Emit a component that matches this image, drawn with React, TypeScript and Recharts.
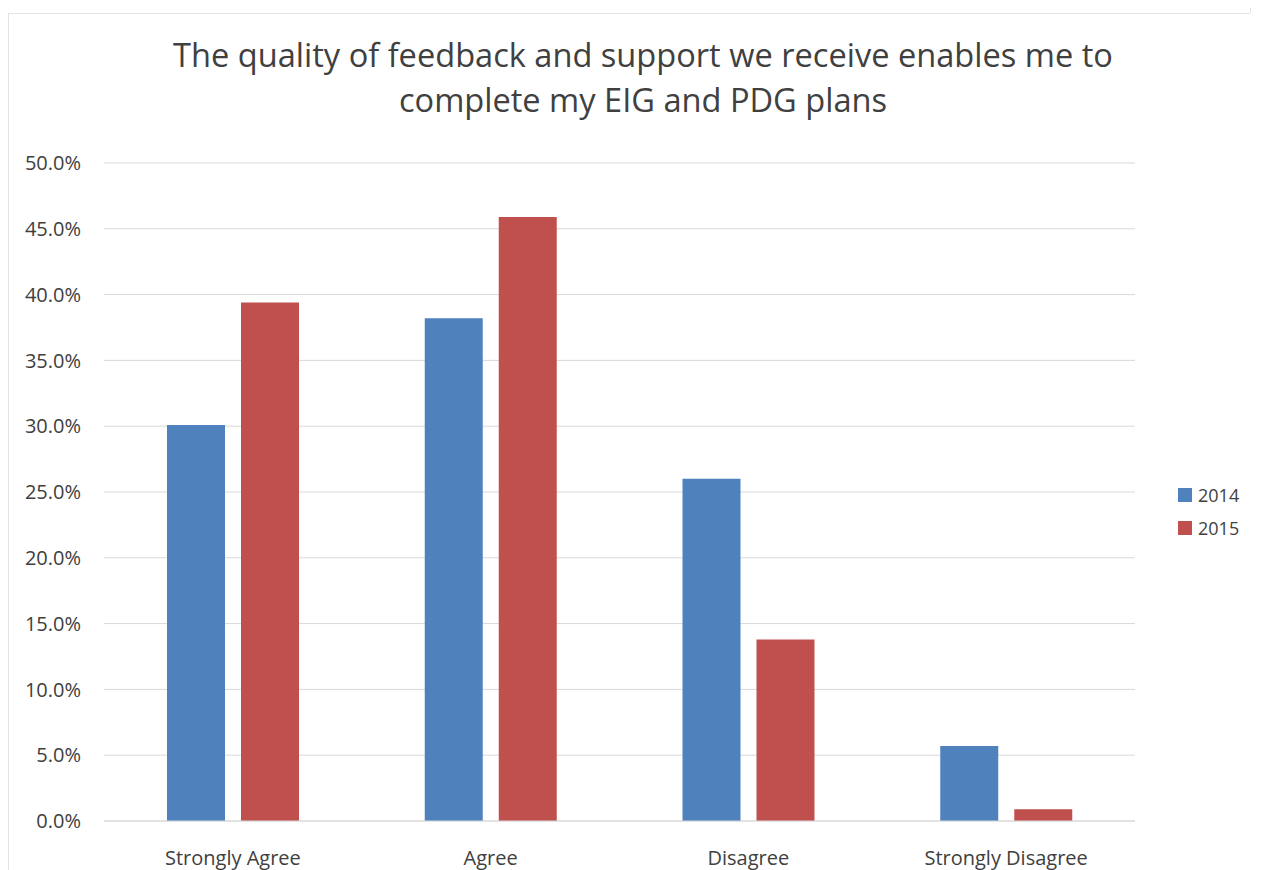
import { Bar, BarChart, CartesianGrid, XAxis, YAxis } from 'recharts'

const categories = ['Strongly Agree', 'Agree', 'Disagree', 'Strongly Disagree']
const values2014 = [30.1, 38.2, 26.0, 5.7]
const values2015 = [39.4, 45.9, 13.8, 0.9]
const yTicks = [0, 5, 10, 15, 20, 25, 30, 35, 40, 45, 50]

const BLUE = '#4F81BD'
const RED = '#C0504D'
const FONT = '"Open Sans", sans-serif'

const data = categories.map((name, i) => ({ name, y2014: values2014[i], y2015: values2015[i] }))

function LegendBox() {
  const items = [
    { label: '2014', color: BLUE },
    { label: '2015', color: RED },
  ]
  return (
    <div style={{ position: 'absolute', left: 1170, top: 470 }}>
      {items.map((it) => (
        <div key={it.label} style={{ display: 'flex', alignItems: 'center', height: 33 }}>
          <div style={{ width: 14, height: 14, background: it.color, marginRight: 6 }} />
          <span style={{ fontSize: 18, color: '#404040', fontFamily: FONT }}>{it.label}</span>
        </div>
      ))}
    </div>
  )
}

export default function App() {
  return (
    <div style={{ position: 'relative', width: 1258, height: 862, fontFamily: FONT }}>
      {/* frame lines from the original screenshot */}
      <div style={{ position: 'absolute', left: 0, top: 5, width: 1242, height: 1, background: '#e3e3e3' }} />
      <div style={{ position: 'absolute', left: 0, top: 5, width: 1, height: 857, background: '#e3e3e3' }} />
      <div style={{ position: 'absolute', left: 1242, top: -8, width: 1, height: 13, background: '#e3e3e3' }} />
      <div style={{ position: 'absolute', left: 0, top: 24, width: 1270, textAlign: 'center', fontSize: 32.6, color: '#404040', lineHeight: '45px' }}>
        The quality of feedback and support we receive enables me to
        <br />
        complete my EIG and PDG plans
      </div>
      <BarChart
        width={1258}
        height={862}
        data={data}
        margin={{ top: 155, right: 131, bottom: 0, left: 0 }}
        barSize={58}
        barGap={16}
      >
        <CartesianGrid vertical={false} stroke="#D9D9D9" />
        <XAxis
          dataKey="name"
          height={49}
          axisLine={{ stroke: '#D9D9D9' }}
          tickLine={false}
          tickSize={0}
          tickMargin={30}
          tick={{ fontSize: 20, fill: '#404040', fontFamily: FONT }}
        />
        <YAxis
          width={96}
          domain={[0, 50]}
          ticks={yTicks}
          interval={0}
          axisLine={false}
          tickLine={false}
          tickSize={0}
          tickMargin={23}
          tickFormatter={(v: number) => v.toFixed(1) + '%'}
          tick={{ fontSize: 20, fill: '#404040', fontFamily: FONT }}
        />
        <Bar dataKey="y2014" name="2014" fill={BLUE} isAnimationActive={false} />
        <Bar dataKey="y2015" name="2015" fill={RED} isAnimationActive={false} />
      </BarChart>
      <LegendBox />
    </div>
  )
}
